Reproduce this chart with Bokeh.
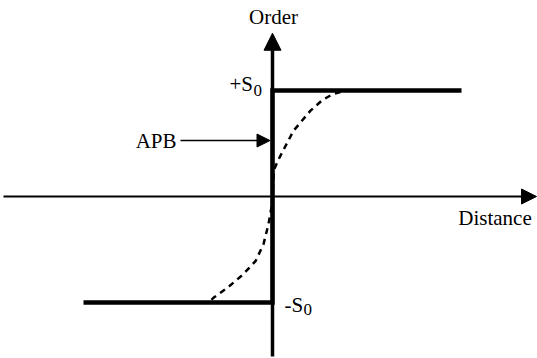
from bokeh.plotting import figure
from bokeh.models import Range1d, Arrow, NormalHead
from bokeh.core.properties import value
from bokeh.embed import file_html
from bokeh.resources import INLINE

# Order parameter step across an antiphase boundary (APB)
step_x = [-18.9, 0.0, 0.0, 18.9]
step_y = [-1.0, -1.0, 1.0, 1.0]

# Smooth (diffuse) profile across the boundary
curve_x = [-6.1, -5.9, -4.5, -3.0, -1.7, -0.9, -0.4, -0.1, 0.0, 0.15, 0.5, 1.1, 2.1, 3.8, 5.0, 6.0, 6.8]
curve_y = [-0.975, -0.955, -0.86, -0.74, -0.61, -0.45, -0.26, -0.1, 0.0, 0.25, 0.33, 0.44, 0.62, 0.81, 0.91, 0.965, 0.985]

# Axis extents
dist_axis = [-26.9, 26.4]
order_axis = [-1.51, 1.54]

FONT = value("Liberation Serif")
BIG = "21px"
SUB = "17px"

p = figure(width=537, height=358, output_backend="svg", toolbar_location=None,
           x_range=Range1d(-27.2, 26.5), y_range=Range1d(-1.528, 1.849),
           x_axis_type=None, y_axis_type=None, min_border=0)
p.outline_line_color = None
p.grid.visible = False
p.background_fill_color = "white"

# Distance axis with arrow
p.add_layout(Arrow(x_start=dist_axis[0], y_start=0, x_end=dist_axis[1], y_end=0,
                   line_width=2, line_color="black",
                   end=NormalHead(size=15, fill_color="black", line_color="black")))
# Order axis with arrow
p.add_layout(Arrow(x_start=0, y_start=order_axis[0], x_end=0, y_end=order_axis[1],
                   line_width=3.5, line_color="black",
                   end=NormalHead(size=17, fill_color="black", line_color="black")))

# Diffuse profile
p.line(curve_x, curve_y, line_width=2.5, line_color="black", line_dash="6 5")

# Sharp step
p.line(step_x, step_y, line_width=4.5, line_color="black", line_join="miter")

# APB pointer
p.add_layout(Arrow(x_start=-9.2, y_start=0.528, x_end=-0.25, y_end=0.528,
                   line_width=1.6, line_color="black",
                   end=NormalHead(size=13, fill_color="black", line_color="black")))

p.text(x=[0.1], y=[1.69], text=["Order"], text_font=FONT, text_font_size=BIG,
       text_align="center", text_baseline="middle", text_color="black")
p.text(x=[-9.6], y=[0.528], text=["APB"], text_font=FONT, text_font_size=BIG,
       text_align="right", text_baseline="middle", text_color="black")
p.text(x=[22.25], y=[-0.198], text=["Distance"], text_font=FONT, text_font_size=BIG,
       text_align="center", text_baseline="middle", text_color="black")

# +S0 label
p.text(x=[-1.95], y=[1.06], text=["+S"], text_font=FONT, text_font_size=BIG,
       text_align="right", text_baseline="middle", text_color="black")
p.text(x=[-1.9], y=[1.0], text=["0"], text_font=FONT, text_font_size=SUB,
       text_align="left", text_baseline="middle", text_color="black")
# -S0 label
p.text(x=[1.2], y=[-1.02], text=["-S"], text_font=FONT, text_font_size=BIG,
       text_align="left", text_baseline="middle", text_color="black")
p.text(x=[3.1], y=[-1.07], text=["0"], text_font=FONT, text_font_size=SUB,
       text_align="left", text_baseline="middle", text_color="black")

open("out.html", "w").write(file_html(p, INLINE))
